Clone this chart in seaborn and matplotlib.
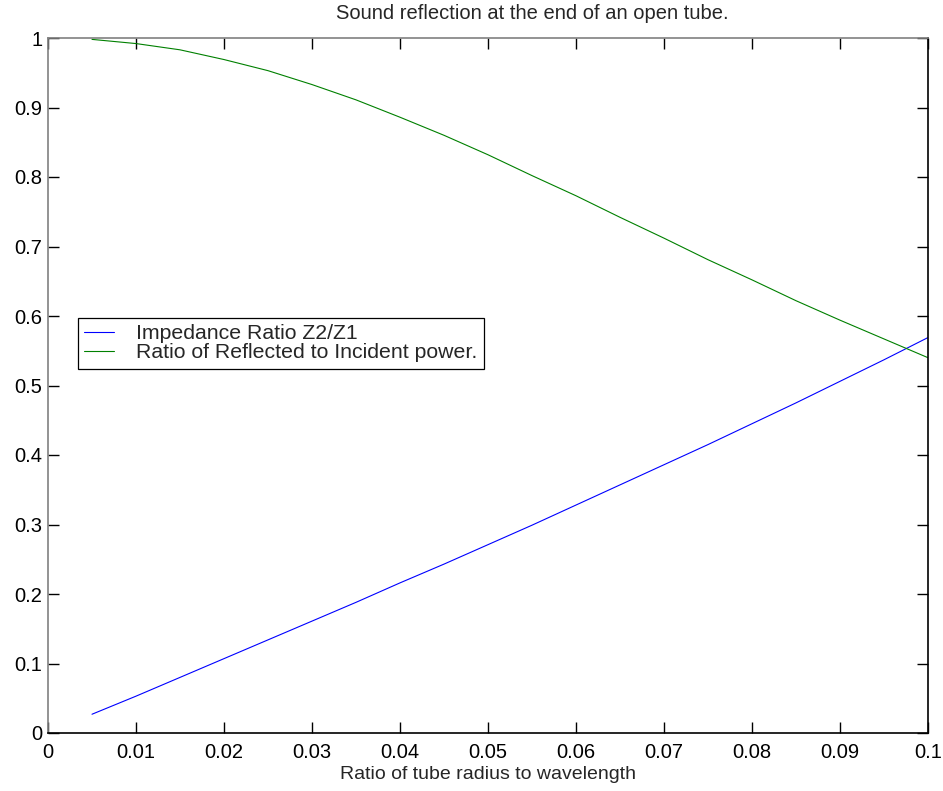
import matplotlib
matplotlib.use("Agg")
import matplotlib.pyplot as plt
import seaborn as sns
import pandas as pd
from matplotlib.ticker import FixedLocator, FixedFormatter

# Data
ratio_radius_wavelength = [0.005, 0.010, 0.015, 0.020, 0.025, 0.030, 0.035, 0.040,
                           0.045, 0.050, 0.055, 0.060, 0.065, 0.070, 0.075, 0.080,
                           0.085, 0.090, 0.095, 0.100]
impedance_ratio = [0.027, 0.053, 0.080, 0.107, 0.134, 0.161, 0.188, 0.216,
                   0.243, 0.271, 0.299, 0.328, 0.357, 0.386, 0.415, 0.445,
                   0.475, 0.506, 0.537, 0.569]
reflected_power_ratio = [0.998, 0.992, 0.983, 0.969, 0.953, 0.933, 0.911, 0.886,
                         0.860, 0.832, 0.802, 0.773, 0.742, 0.712, 0.681, 0.652,
                         0.622, 0.594, 0.567, 0.540]
series_names = ["Impedance Ratio Z2/Z1", "Ratio of Reflected to Incident power."]
series_colors = ["#0000ff", "#008000"]
x_ticks = [0, 0.01, 0.02, 0.03, 0.04, 0.05, 0.06, 0.07, 0.08, 0.09, 0.1]
x_tick_labels = ["0", "0.01", "0.02", "0.03", "0.04", "0.05", "0.06", "0.07", "0.08", "0.09", "0.1"]
y_ticks = [0, 0.1, 0.2, 0.3, 0.4, 0.5, 0.6, 0.7, 0.8, 0.9, 1.0]
y_tick_labels = ["0", "0.1", "0.2", "0.3", "0.4", "0.5", "0.6", "0.7", "0.8", "0.9", "1"]
title_text = "Sound reflection at the end of an open tube."
x_label = "Ratio of tube radius to wavelength"

df = pd.DataFrame({
    "x": ratio_radius_wavelength * 2,
    "y": impedance_ratio + reflected_power_ratio,
    "series": [series_names[0]] * len(ratio_radius_wavelength)
              + [series_names[1]] * len(ratio_radius_wavelength),
})

sns.set_style("white")
plt.rcParams["font.family"] = ["Liberation Sans", "DejaVu Sans"]

fig = plt.figure(figsize=(9.43, 7.91), dpi=100)
ax = fig.add_axes([48 / 943, (791 - 733) / 791, 880 / 943, 695 / 791])

sns.lineplot(data=df, x="x", y="y", hue="series", hue_order=series_names,
             palette=series_colors, linewidth=0.8, ax=ax, legend=True)

ax.set_xlim(0, 0.1)
ax.set_ylim(0, 1)
ax.xaxis.set_major_locator(FixedLocator(x_ticks))
ax.xaxis.set_major_formatter(FixedFormatter(x_tick_labels))
ax.yaxis.set_major_locator(FixedLocator(y_ticks))
ax.yaxis.set_major_formatter(FixedFormatter(y_tick_labels))
ax.tick_params(direction="in", length=8, width=1, colors="black",
               labelsize=14.5, top=True, right=True, bottom=True, left=True)
ax.tick_params(axis="x", pad=7)
ax.tick_params(axis="y", pad=4)
for side in ["top", "left"]:
    ax.spines[side].set_color("#808080")
for side in ["bottom", "right"]:
    ax.spines[side].set_color("black")
for sp in ax.spines.values():
    sp.set_linewidth(1.2)
    sp.set_visible(True)

ax.set_title(title_text, fontsize=14.5, pad=14, x=0.55)
ax.set_xlabel(x_label, fontsize=14, labelpad=3)
ax.set_ylabel("")

leg = ax.legend(loc="upper left", bbox_to_anchor=(0.034, 0.597), fontsize=15.3,
                frameon=True, fancybox=False, edgecolor="black", framealpha=1,
                handlelength=1.4, handletextpad=1.05, borderpad=0.3,
                labelspacing=0.0, borderaxespad=0)
leg.get_frame().set_linewidth(0.9)

fig.savefig("out.png", dpi=100)
